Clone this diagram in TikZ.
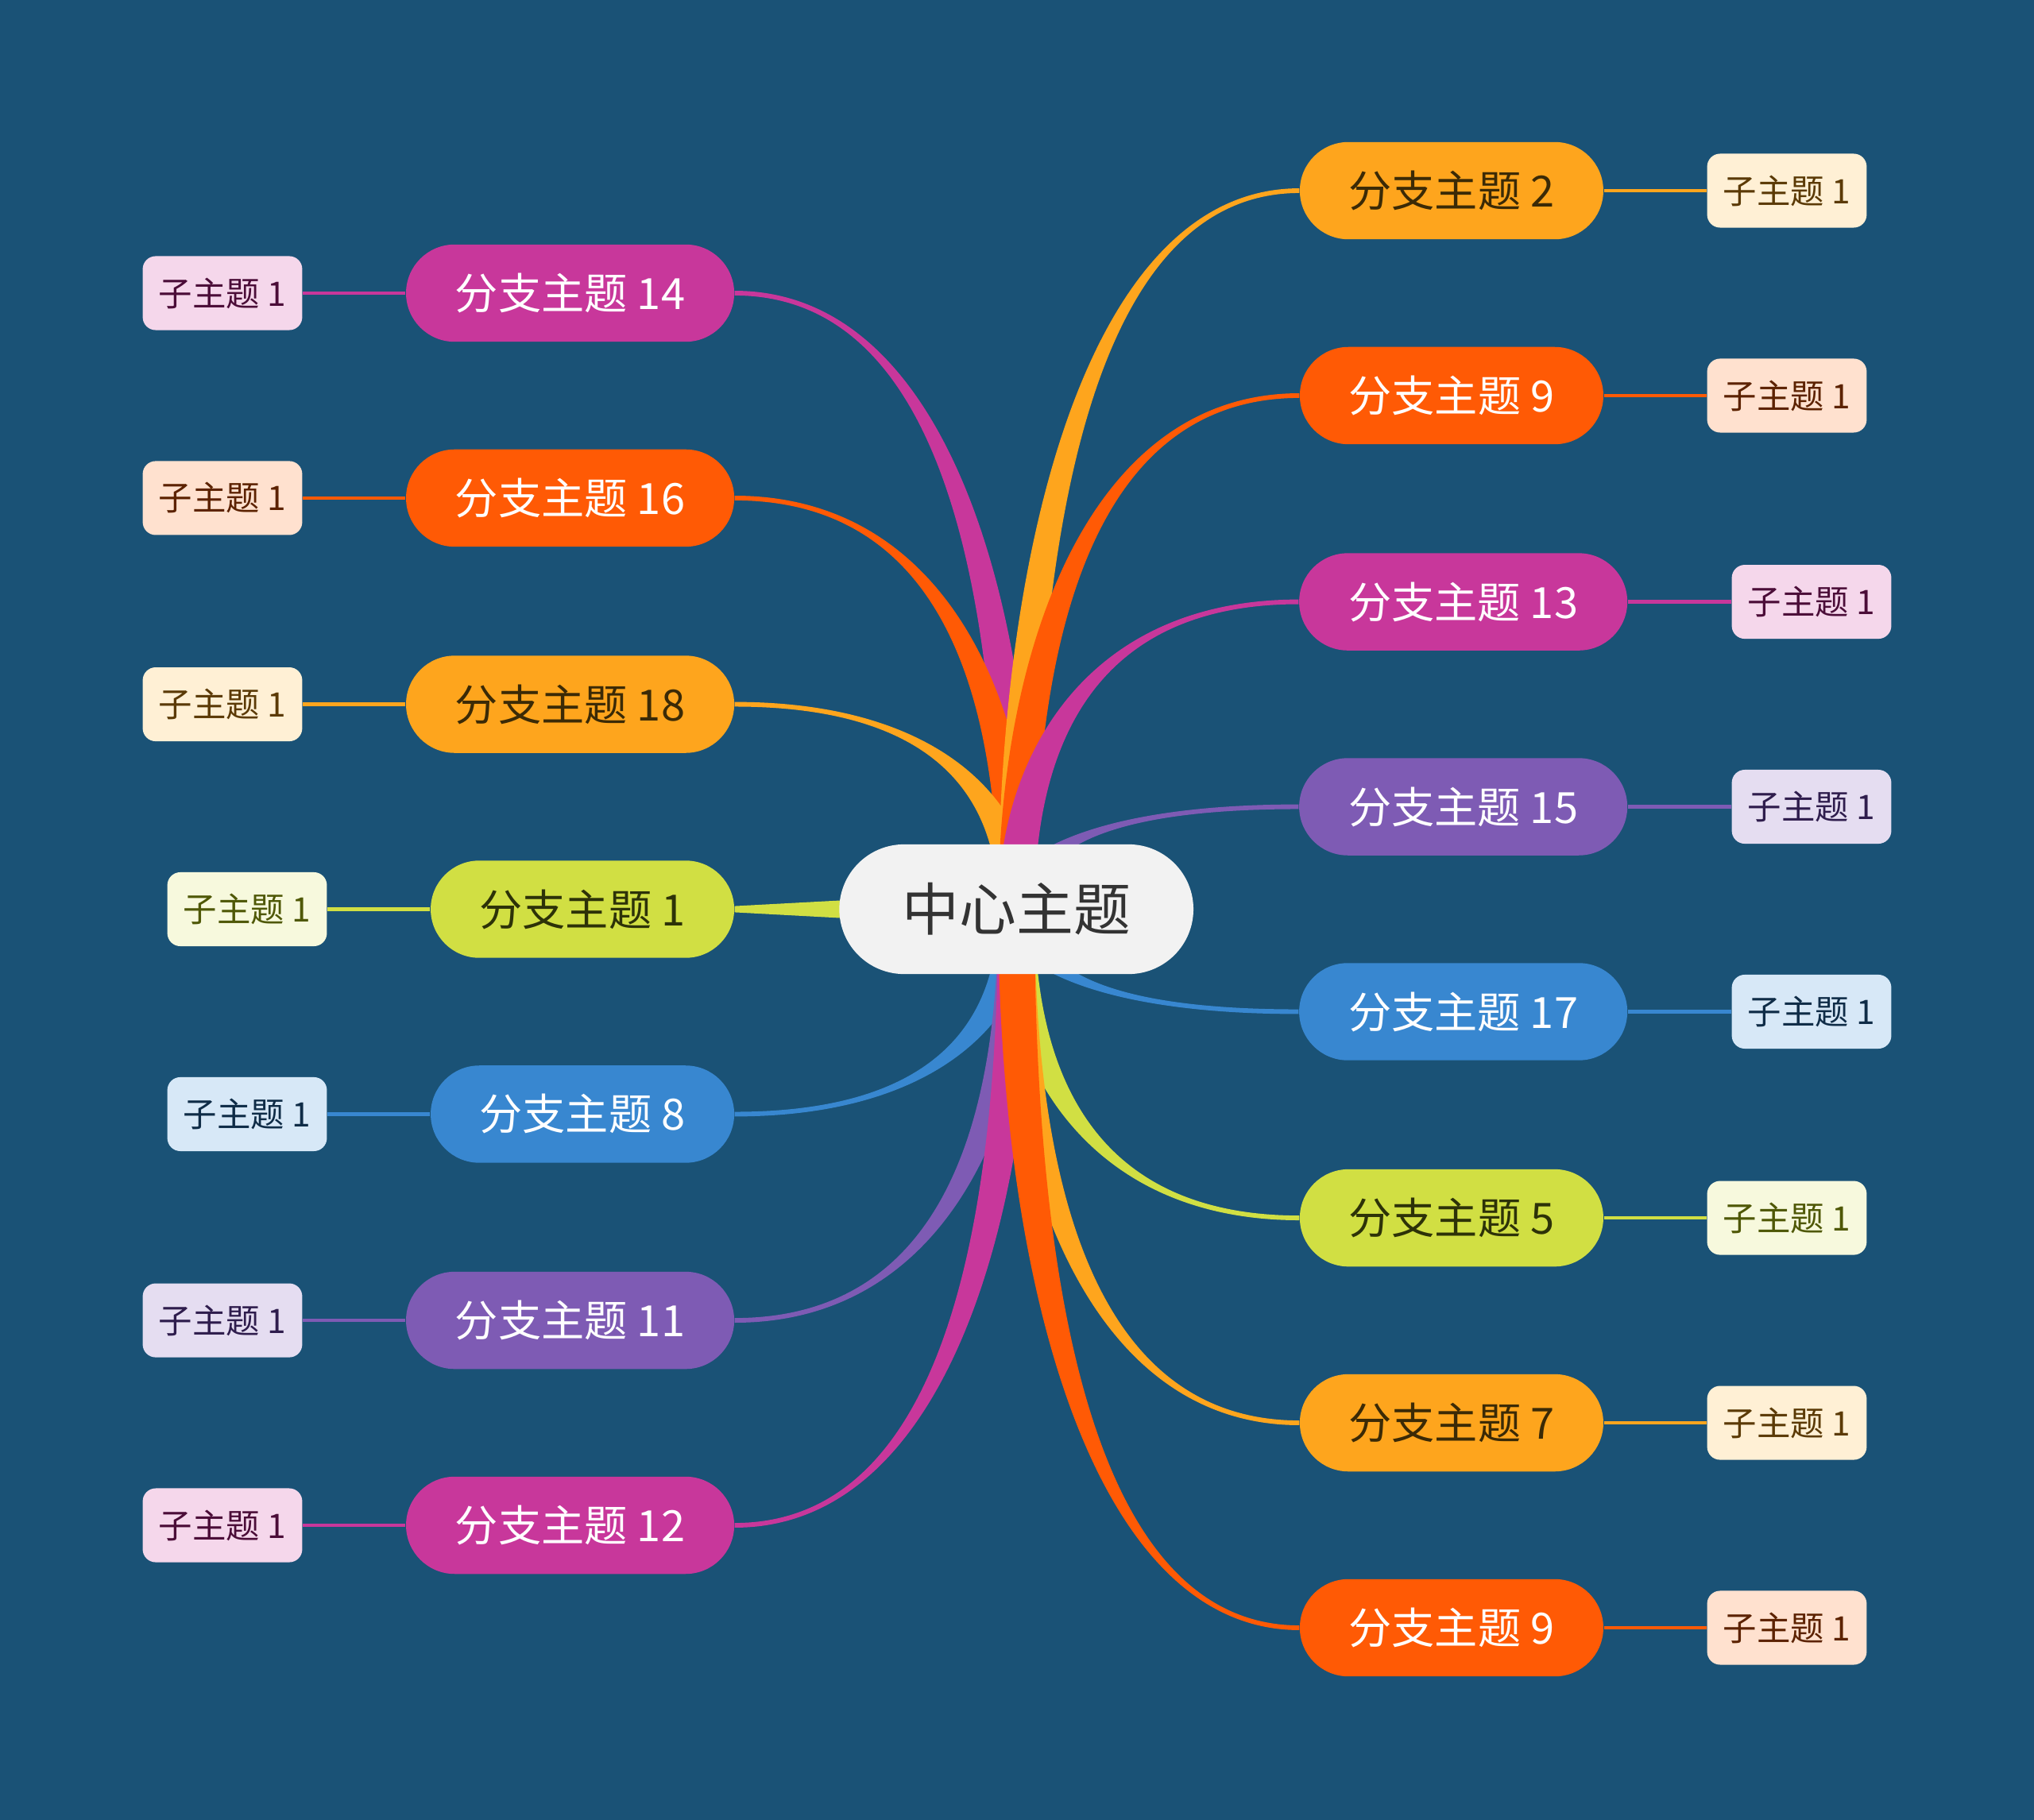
\documentclass[tikz,border=0pt]{standalone}
\usepackage{fontspec}
\newfontfamily\cjk{Noto Sans CJK SC}
\usetikzlibrary{calc}
\pgfdeclarelayer{bglayer}
\pgfdeclarelayer{linklayer}
\pgfsetlayers{bglayer,linklayer,main}
\definecolor{bgblue}{HTML}{1A5276}
\definecolor{cOr}{HTML}{FEA51D}
\definecolor{cRd}{HTML}{FF5A05}
\definecolor{cMg}{HTML}{C8379B}
\definecolor{cPu}{HTML}{7E5BB4}
\definecolor{cBl}{HTML}{3887D0}
\definecolor{cLi}{HTML}{D1DF43}
\definecolor{cCe}{HTML}{F2F2F2}
\definecolor{tCe}{HTML}{333333}
\definecolor{tOr}{HTML}{3B2A06}
\definecolor{tLi}{HTML}{2D3208}
\definecolor{sOr}{HTML}{FFF0D5}\definecolor{tsOr}{HTML}{5B3A06}
\definecolor{sRd}{HTML}{FFE1CF}\definecolor{tsRd}{HTML}{5C2200}
\definecolor{sMg}{HTML}{F5D7EB}\definecolor{tsMg}{HTML}{4B0D38}
\definecolor{sPu}{HTML}{E5DDF1}\definecolor{tsPu}{HTML}{2F1D4D}
\definecolor{sBl}{HTML}{D7E8F7}\definecolor{tsBl}{HTML}{0F2C47}
\definecolor{sLi}{HTML}{F7F9DD}\definecolor{tsLi}{HTML}{4F5806}
\def\tapA{7pt}
\def\tapB{0.9pt}
\newcommand\taper[3]{%
  \fill[#1] let \p1=(#2), \p2=(#3), \n1={sign(\x2-\x1)*sign(\y2-\y1)} in
    (\x1-\tapA,\y1) .. controls (\x1-\tapA,{\y1+0.5*(\y2-\y1)}) and ({\x1+0.25*(\x2-\x1)},{\y2+\n1*\tapB}) .. (\x2,{\y2+\n1*\tapB})
    -- (\x2,{\y2-\n1*\tapB}) .. controls ({\x1+0.25*(\x2-\x1)},{\y2-\n1*\tapB}) and (\x1+\tapA,{\y1+0.5*(\y2-\y1)}) .. (\x1+\tapA,\y1) -- cycle;}
\begin{document}
\begin{tikzpicture}[x=0.5pt,y=-0.5pt,
  centernode/.style={rectangle, rounded corners=25pt, minimum width=136.5pt, minimum height=50pt, inner sep=0pt, fill=cCe, text=tCe, font=\cjk\fontsize{22}{26}\selectfont},
  branch/.style={rectangle, rounded corners=18.75pt, minimum height=37.5pt, inner sep=0pt, font=\cjk\fontsize{16.6}{20}\selectfont},
  single/.style={minimum width=117pt},
  double/.style={minimum width=126.5pt},
  bOr/.style={branch, fill=cOr, text=tOr},
  bRd/.style={branch, fill=cRd, text=white},
  bMg/.style={branch, fill=cMg, text=white},
  bPu/.style={branch, fill=cPu, text=white},
  bBl/.style={branch, fill=cBl, text=white},
  bLi/.style={branch, fill=cLi, text=tLi},
  sub/.style={rectangle, rounded corners=5pt, minimum width=61.5pt, minimum height=28.5pt, inner sep=0pt, font=\cjk\fontsize{13}{16}\selectfont},
  ssOr/.style={sub, fill=sOr, text=tsOr},
  ssRd/.style={sub, fill=sRd, text=tsRd},
  ssMg/.style={sub, fill=sMg, text=tsMg},
  ssPu/.style={sub, fill=sPu, text=tsPu},
  ssBl/.style={sub, fill=sBl, text=tsBl},
  ssLi/.style={sub, fill=sLi, text=tsLi},
  subline/.style={line width=1.3pt}
]
\useasboundingbox (0,0) rectangle (1568,1403);
\begin{pgfonlayer}{bglayer}
\fill[bgblue] (0,0) rectangle (1568,1403);
\end{pgfonlayer}

% centre
\node[centernode] (c) at (783.5,701) {中心主题};

% right branches
\node[bOr,single] (r1) at (1119,147) {分支主题 2};
\node[bRd,single] (r2) at (1119,305) {分支主题 9};
\node[bMg,double] (r3) at (1128,464) {分支主题 13};
\node[bPu,double] (r4) at (1128,622) {分支主题 15};
\node[bBl,double] (r5) at (1128,780) {分支主题 17};
\node[bLi,single] (r6) at (1119,939) {分支主题 5};
\node[bOr,single] (r7) at (1119,1097) {分支主题 7};
\node[bRd,single] (r8) at (1119,1255) {分支主题 9};

% left branches
\node[bMg,double] (l1) at (439.5,226) {分支主题 14};
\node[bRd,double] (l2) at (439.5,384) {分支主题 16};
\node[bOr,double] (l3) at (439.5,543) {分支主题 18};
\node[bLi,single] (l4) at (449,701) {分支主题 1};
\node[bBl,single] (l5) at (449,859) {分支主题 8};
\node[bPu,double] (l6) at (439.5,1018) {分支主题 11};
\node[bMg,double] (l7) at (439.5,1176) {分支主题 12};

% right subtopics
\node[ssOr] (sr1) at (1377.5,147) {子主题 1};
\node[ssRd] (sr2) at (1377.5,305) {子主题 1};
\node[ssMg] (sr3) at (1396.5,464) {子主题 1};
\node[ssPu] (sr4) at (1396.5,622) {子主题 1};
\node[ssBl] (sr5) at (1396.5,780) {子主题 1};
\node[ssLi] (sr6) at (1377.5,939) {子主题 1};
\node[ssOr] (sr7) at (1377.5,1097) {子主题 1};
\node[ssRd] (sr8) at (1377.5,1255) {子主题 1};

% left subtopics
\node[ssMg] (sl1) at (171.5,226) {子主题 1};
\node[ssRd] (sl2) at (171.5,384) {子主题 1};
\node[ssOr] (sl3) at (171.5,543) {子主题 1};
\node[ssLi] (sl4) at (190.5,701) {子主题 1};
\node[ssBl] (sl5) at (190.5,859) {子主题 1};
\node[ssPu] (sl6) at (171.5,1018) {子主题 1};
\node[ssMg] (sl7) at (171.5,1176) {子主题 1};

\begin{pgfonlayer}{linklayer}
% left side, top to bottom
\taper{cMg}{c.center}{l1.east}
\taper{cRd}{c.center}{l2.east}
\taper{cOr}{c.center}{l3.east}
\fill[cLi] let \p1=(c.center), \p2=(l4.east) in (\x1,\y1+\tapA) -- (\x2,\y2+1.2pt) -- (\x2,\y2-1.2pt) -- (\x1,\y1-\tapA) -- cycle;
\taper{cBl}{c.center}{l5.east}
\taper{cPu}{c.center}{l6.east}
\taper{cMg}{c.center}{l7.east}
% right side, top to bottom
\taper{cOr}{c.center}{r1.west}
\taper{cRd}{c.center}{r2.west}
\taper{cMg}{c.center}{r3.west}
\taper{cPu}{c.center}{r4.west}
\taper{cBl}{c.center}{r5.west}
\taper{cLi}{c.center}{r6.west}
\taper{cOr}{c.center}{r7.west}
\taper{cRd}{c.center}{r8.west}
% sub lines
\draw[subline,cOr] (r1.east) -- (sr1.west);
\draw[subline,cRd] (r2.east) -- (sr2.west);
\draw[subline,cMg] (r3.east) -- (sr3.west);
\draw[subline,cPu] (r4.east) -- (sr4.west);
\draw[subline,cBl] (r5.east) -- (sr5.west);
\draw[subline,cLi] (r6.east) -- (sr6.west);
\draw[subline,cOr] (r7.east) -- (sr7.west);
\draw[subline,cRd] (r8.east) -- (sr8.west);
\draw[subline,cMg] (l1.west) -- (sl1.east);
\draw[subline,cRd] (l2.west) -- (sl2.east);
\draw[subline,cOr] (l3.west) -- (sl3.east);
\draw[subline,cLi] (l4.west) -- (sl4.east);
\draw[subline,cBl] (l5.west) -- (sl5.east);
\draw[subline,cPu] (l6.west) -- (sl6.east);
\draw[subline,cMg] (l7.west) -- (sl7.east);
\end{pgfonlayer}
\end{tikzpicture}
\end{document}
